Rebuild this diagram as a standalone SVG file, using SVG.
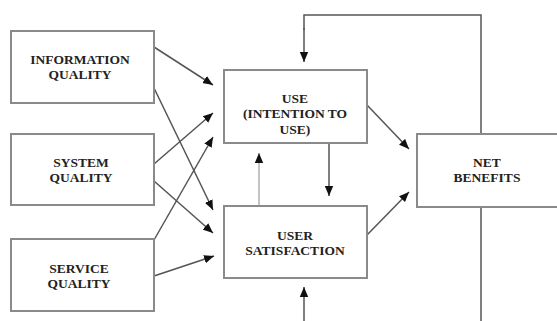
<svg xmlns="http://www.w3.org/2000/svg" width="557" height="321" viewBox="0 0 557 321">
  <defs>
    <marker id="head" viewBox="0 0 10 10" refX="10" refY="5" markerWidth="10" markerHeight="10" markerUnits="userSpaceOnUse" orient="auto">
      <path d="M0,0.8 L10,5 L0,9.2 Z" fill="#111"/>
    </marker>
    <style>
      .box { fill: #fff; stroke: #8a8a8a; stroke-width: 2; }
      .lbl { font-family: "Liberation Serif", "Times New Roman", "DejaVu Serif", serif; font-weight: bold; font-size: 13.5px; fill: #222; text-anchor: middle; }
      .con { fill: none; stroke: #555; stroke-width: 1.5; }
      .arr { marker-end: url(#head); }
      .thin { stroke: #888; stroke-width: 1; }
    </style>
  </defs>
  <rect width="557" height="321" fill="#fff"/>

  <g id="connectors">
    <!-- quality dimensions into use -->
    <line class="con arr" x1="154" y1="47" x2="213" y2="85"/>
    <line class="con arr" x1="154" y1="164" x2="213" y2="113"/>
    <line class="con arr" x1="154" y1="240" x2="213" y2="137"/>
    <!-- quality dimensions into user satisfaction -->
    <line class="con arr" x1="154" y1="88" x2="213" y2="210"/>
    <line class="con arr" x1="154" y1="181" x2="213" y2="233"/>
    <line class="con arr" x1="154" y1="276" x2="214" y2="256"/>
    <!-- use and satisfaction into net benefits -->
    <line class="con arr" x1="367" y1="105" x2="409" y2="149"/>
    <line class="con arr" x1="367" y1="235" x2="409" y2="192"/>
    <!-- use <-> user satisfaction -->
    <line class="con arr" x1="329" y1="143" x2="329" y2="196"/>
    <line class="con thin arr" x1="259" y1="206" x2="259" y2="153"/>
    <!-- feedback loops from net benefits -->
    <polyline class="con" points="481,134 481,15 304,15 304,30"/>
    <line class="con arr" x1="304" y1="28" x2="304" y2="62"/>
    <polyline class="con" points="481,207 481,325"/>
    <line class="con arr" x1="304" y1="325" x2="304" y2="287"/>
  </g>

  <g id="information-quality">
    <rect class="box" x="11" y="31" width="143" height="72"/>
    <text class="lbl" x="80" y="64">INFORMATION</text>
    <text class="lbl" x="80" y="79">QUALITY</text>
  </g>

  <g id="system-quality">
    <rect class="box" x="11" y="134" width="143" height="71"/>
    <text class="lbl" x="81" y="167">SYSTEM</text>
    <text class="lbl" x="81" y="182">QUALITY</text>
  </g>

  <g id="service-quality">
    <rect class="box" x="11" y="239" width="143" height="72"/>
    <text class="lbl" x="79" y="273">SERVICE</text>
    <text class="lbl" x="79" y="288">QUALITY</text>
  </g>

  <g id="use">
    <rect class="box" x="224" y="70" width="143" height="73"/>
    <text class="lbl" x="295" y="103">USE</text>
    <text class="lbl" x="295" y="118">(INTENTION TO</text>
    <text class="lbl" x="295" y="134">USE)</text>
  </g>

  <g id="user-satisfaction">
    <rect class="box" x="224" y="206" width="143" height="72"/>
    <text class="lbl" x="295" y="240">USER</text>
    <text class="lbl" x="295" y="255">SATISFACTION</text>
  </g>

  <g id="net-benefits">
    <rect class="box" x="417" y="134" width="150" height="73"/>
    <text class="lbl" x="487" y="167">NET</text>
    <text class="lbl" x="487" y="182">BENEFITS</text>
  </g>
</svg>
